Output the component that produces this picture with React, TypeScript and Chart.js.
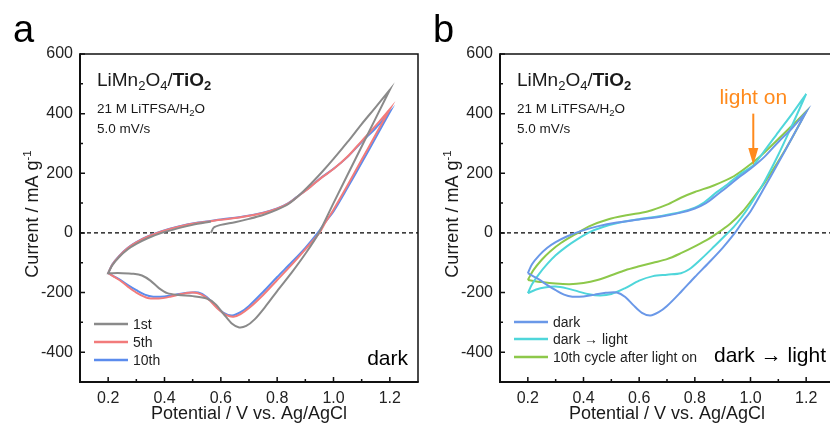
import React, { useEffect, useRef } from "react";
import { Chart, registerables } from "chart.js";
Chart.register(...registerables);

const FONT = "'Liberation Sans', Arial, Helvetica, sans-serif";

// ---- axes ----
const xRange = [0.1, 1.3];
const yRange = [-500, 600];
const xTickValues = [0.2, 0.4, 0.6, 0.8, 1.0, 1.2];
const xMinorTickValues = [0.3, 0.5, 0.7, 0.9, 1.1];
const yTickValues = [-400, -200, 0, 200, 400, 600];
const yMinorTickValues = [-300, -100, 100, 300, 500];

// ---- panel a : 1st cycle (starts at OCP) ----
const c1StartV = [0.565, 0.575, 0.6, 0.65, 0.7, 0.75, 0.8, 0.84, 0.88, 0.92, 0.96, 1.0, 1.05, 1.1, 1.15, 1.2];
const c1StartI = [0, 18, 27, 36, 47, 60, 78, 97, 128, 165, 205, 248, 305, 365, 422, 480];
const c1CathV = [1.2, 1.1, 1.0, 0.948, 0.9, 0.85, 0.8, 0.76, 0.72, 0.69, 0.665, 0.64, 0.61, 0.58, 0.55, 0.5, 0.45, 0.41, 0.38, 0.35, 0.32, 0.29, 0.25, 0.2];
const c1CathI = [480, 290, 100, 0, -70, -135, -195, -245, -290, -312, -317, -305, -272, -238, -220, -212, -208, -202, -185, -160, -143, -137, -135, -135];
const c1EndV = [0.2, 0.215, 0.24, 0.27, 0.3, 0.34, 0.39, 0.45, 0.5, 0.565];
const c1EndI = [-135, -108, -80, -55, -37, -18, 0, 16, 27, 38];

// ---- panel a : 5th cycle ----
const c5AnodV = [0.2, 0.215, 0.24, 0.27, 0.3, 0.34, 0.39, 0.45, 0.52, 0.6, 0.68, 0.75, 0.8, 0.84, 0.88, 0.92, 0.96, 1.0, 1.05, 1.1, 1.15, 1.2];
const c5AnodI = [-135, -106, -77, -51, -32, -13, 5, 21, 34, 44, 54, 67, 81, 99, 127, 156, 187, 214, 256, 308, 360, 415];
const c5CathV = [1.2, 1.15, 1.1, 1.05, 1.0, 0.97, 0.95, 0.9, 0.85, 0.8, 0.75, 0.7, 0.67, 0.645, 0.62, 0.59, 0.56, 0.53, 0.5, 0.46, 0.42, 0.38, 0.34, 0.3, 0.27, 0.24, 0.2];
const c5CathI = [415, 330, 245, 160, 78, 33, 0, -55, -108, -158, -208, -252, -272, -281, -276, -255, -226, -206, -200, -205, -214, -220, -218, -200, -180, -158, -135];

// ---- panel a : 10th cycle (also "dark" in panel b) ----
const c10AnodV = [0.2, 0.215, 0.24, 0.27, 0.3, 0.34, 0.39, 0.45, 0.52, 0.6, 0.68, 0.75, 0.8, 0.84, 0.88, 0.92, 0.96, 1.0, 1.05, 1.1, 1.15, 1.2];
const c10AnodI = [-135, -105, -76, -50, -31, -12, 6, 22, 35, 45, 55, 68, 82, 100, 128, 157, 188, 215, 255, 305, 352, 405];
const c10CathV = [1.2, 1.15, 1.1, 1.05, 1.0, 0.97, 0.944, 0.9, 0.85, 0.8, 0.75, 0.7, 0.67, 0.64, 0.61, 0.58, 0.55, 0.52, 0.48, 0.44, 0.4, 0.36, 0.33, 0.3, 0.27, 0.24, 0.2];
const c10CathI = [405, 320, 235, 152, 72, 35, 0, -50, -100, -148, -198, -245, -266, -277, -268, -243, -215, -200, -201, -207, -213, -214, -207, -192, -175, -156, -135];

// ---- panel b : dark -> light ----
const cyanAnodV = [0.2, 0.215, 0.24, 0.27, 0.3, 0.34, 0.38, 0.42, 0.47, 0.53, 0.6, 0.68, 0.75, 0.8, 0.83, 0.87, 0.92, 0.96, 1.01, 1.05, 1.1, 1.15, 1.2];
const cyanAnodI = [-202, -172, -138, -104, -75, -45, -20, 2, 20, 35, 46, 57, 70, 85, 100, 130, 165, 195, 227, 275, 338, 400, 466];
const cyanCathV = [1.2, 1.15, 1.1, 1.05, 1.0, 0.97, 0.94, 0.91, 0.87, 0.82, 0.78, 0.75, 0.7, 0.65, 0.6, 0.55, 0.5, 0.46, 0.42, 0.38, 0.34, 0.3, 0.26, 0.23, 0.2];
const cyanCathI = [466, 362, 262, 172, 95, 55, 20, -8, -45, -90, -122, -135, -140, -145, -160, -185, -205, -210, -206, -196, -186, -180, -183, -190, -202];

// ---- panel b : 10th cycle after light on ----
const greenAnodV = [0.2, 0.22, 0.25, 0.28, 0.32, 0.37, 0.42, 0.49, 0.56, 0.63, 0.7, 0.75, 0.8, 0.87, 0.94, 1.0, 1.05, 1.1, 1.15, 1.2];
const greenAnodI = [-158, -125, -90, -62, -33, -5, 22, 46, 60, 72, 95, 118, 137, 160, 190, 230, 270, 315, 360, 407];
const greenCathV = [1.2, 1.15, 1.1, 1.05, 1.0, 0.97, 0.93, 0.89, 0.85, 0.8, 0.75, 0.7, 0.65, 0.6, 0.55, 0.5, 0.45, 0.4, 0.35, 0.3, 0.25, 0.2];
const greenCathI = [407, 320, 240, 168, 105, 70, 33, 5, -20, -45, -68, -88, -100, -112, -125, -142, -158, -168, -172, -170, -165, -158];

// light-on annotation (data coords)
const lightOnV = 1.01;
const lightOnTipI = 228;
const lightOnTailI = 400;
const lightOnLabelI = 432;

const COLORS = {
  gray: "#8a8a8a",
  red: "#f27b7b",
  blue: "#5b8ced",
  darkB: "#6a98e8",
  cyan: "#4fd6da",
  green: "#8dc84a",
  orange: "#ff8a1c",
  text: "#1a1a1a",
};

type Branch = [number[], number[]];
function pts(...branches: Branch[]) {
  const out: { x: number; y: number }[] = [];
  branches.forEach(([v, i]) => v.forEach((x, k) => out.push({ x, y: i[k] })));
  return out;
}

type Run = { t: string; size: number; bold?: boolean; dy?: number; color?: string };
function runsWidth(ctx: CanvasRenderingContext2D, runs: Run[]) {
  let w = 0;
  runs.forEach((r) => {
    ctx.font = `${r.bold ? "bold " : ""}${r.size}px ${FONT}`;
    w += ctx.measureText(r.t).width;
  });
  return w;
}
function drawRuns(ctx: CanvasRenderingContext2D, x: number, y: number, runs: Run[], color = COLORS.text) {
  let cx = x;
  ctx.textBaseline = "alphabetic";
  ctx.textAlign = "left";
  runs.forEach((r) => {
    ctx.font = `${r.bold ? "bold " : ""}${r.size}px ${FONT}`;
    ctx.fillStyle = r.color || color;
    ctx.fillText(r.t, cx, y + (r.dy || 0));
    cx += ctx.measureText(r.t).width;
  });
}

type PanelCfg = {
  letter: string;
  corner: string;
  cornerRight: number;
  cornerBottom: number;
  legend: { label: string; color: string }[];
  legendYOffsets: number[];
  arrow?: boolean;
};

function decorPlugin(cfg: PanelCfg) {
  return {
    id: "decor",
    beforeDatasetsDraw(chart: any) {
      const { ctx, chartArea, scales } = chart;
      const y0 = scales.y.getPixelForValue(0);
      ctx.save();
      ctx.strokeStyle = "#000";
      ctx.lineWidth = 1.2;
      ctx.setLineDash([4, 3]);
      ctx.beginPath();
      ctx.moveTo(chartArea.left, y0);
      ctx.lineTo(chartArea.right, y0);
      ctx.stroke();
      ctx.restore();
    },
    afterDraw(chart: any) {
      const { ctx, chartArea: ca, scales } = chart;
      const xs = scales.x;
      const ys = scales.y;
      ctx.save();
      // frame
      ctx.strokeStyle = "#111";
      ctx.lineWidth = 1.5;
      ctx.beginPath();
      ctx.moveTo(ca.left, ca.top);
      ctx.lineTo(ca.right, ca.top);
      ctx.lineTo(ca.right, ca.bottom);
      ctx.stroke();
      ctx.lineWidth = 2;
      ctx.beginPath();
      ctx.moveTo(ca.left, ca.top - 0.75);
      ctx.lineTo(ca.left, ca.bottom);
      ctx.lineTo(ca.right + 0.75, ca.bottom);
      ctx.stroke();
      // inward ticks
      ctx.lineWidth = 1.5;
      ctx.beginPath();
      xTickValues.forEach((v) => {
        const px = xs.getPixelForValue(v);
        ctx.moveTo(px, ca.bottom);
        ctx.lineTo(px, ca.bottom - 5);
      });
      xMinorTickValues.forEach((v) => {
        const px = xs.getPixelForValue(v);
        ctx.moveTo(px, ca.bottom);
        ctx.lineTo(px, ca.bottom - 3);
      });
      yTickValues.forEach((v) => {
        const py = ys.getPixelForValue(v);
        ctx.moveTo(ca.left, py);
        ctx.lineTo(ca.left + 5, py);
      });
      yMinorTickValues.forEach((v) => {
        const py = ys.getPixelForValue(v);
        ctx.moveTo(ca.left, py);
        ctx.lineTo(ca.left + 3, py);
      });
      ctx.stroke();

      // panel letter
      ctx.fillStyle = "#000";
      ctx.font = `38px ${FONT}`;
      ctx.textAlign = "left";
      ctx.textBaseline = "alphabetic";
      ctx.fillText(cfg.letter, 13, 42);

      // x title
      ctx.font = `18px ${FONT}`;
      ctx.fillStyle = COLORS.text;
      ctx.textAlign = "center";
      ctx.fillText("Potential / V vs. Ag/AgCl", (ca.left + ca.right) / 2, 419);

      // y title (rotated)
      const yRuns: Run[] = [
        { t: "Current / mA g", size: 18 },
        { t: "-1", size: 11.5, dy: -7.5 },
      ];
      ctx.save();
      ctx.translate(38, 214);
      ctx.rotate(-Math.PI / 2);
      const yw = runsWidth(ctx, yRuns);
      drawRuns(ctx, -yw / 2, 0, yRuns);
      ctx.restore();

      // sample annotation
      const tx = ca.left + 17;
      drawRuns(ctx, tx, ca.top + 32, [
        { t: "LiMn", size: 19 },
        { t: "2", size: 13, dy: 4 },
        { t: "O", size: 19 },
        { t: "4", size: 13, dy: 4 },
        { t: "/", size: 19 },
        { t: "TiO", size: 19, bold: true },
        { t: "2", size: 13, bold: true, dy: 4 },
      ]);
      drawRuns(ctx, tx, ca.top + 59, [
        { t: "21 M LiTFSA/H", size: 13.5 },
        { t: "2", size: 9.5, dy: 3 },
        { t: "O", size: 13.5 },
      ]);
      drawRuns(ctx, tx, ca.top + 79, [{ t: "5.0 mV/s", size: 13.5 }]);

      // corner label
      ctx.font = `21px ${FONT}`;
      ctx.fillStyle = "#000";
      ctx.textAlign = "right";
      ctx.textBaseline = "alphabetic";
      ctx.fillText(cfg.corner, ca.right - cfg.cornerRight, ca.bottom - cfg.cornerBottom);

      // legend
      cfg.legend.forEach((item, k) => {
        const ly = ca.bottom + cfg.legendYOffsets[k];
        ctx.strokeStyle = item.color;
        ctx.lineWidth = 2.5;
        ctx.beginPath();
        ctx.moveTo(ca.left + 14, ly);
        ctx.lineTo(ca.left + 48, ly);
        ctx.stroke();
        ctx.font = `14px ${FONT}`;
        ctx.fillStyle = "#222";
        ctx.textAlign = "left";
        ctx.textBaseline = "middle";
        ctx.fillText(item.label, ca.left + 53, ly + 1);
      });

      // light-on arrow
      if (cfg.arrow) {
        const ax = xs.getPixelForValue(lightOnV);
        const tipY = ys.getPixelForValue(lightOnTipI);
        const tailY = ys.getPixelForValue(lightOnTailI);
        ctx.strokeStyle = COLORS.orange;
        ctx.fillStyle = COLORS.orange;
        ctx.lineWidth = 2;
        ctx.beginPath();
        ctx.moveTo(ax, tailY);
        ctx.lineTo(ax, tipY - 14);
        ctx.stroke();
        ctx.beginPath();
        ctx.moveTo(ax - 5, tipY - 17);
        ctx.lineTo(ax + 5, tipY - 17);
        ctx.lineTo(ax, tipY);
        ctx.closePath();
        ctx.fill();
        ctx.font = `21px ${FONT}`;
        ctx.textAlign = "center";
        ctx.textBaseline = "alphabetic";
        ctx.fillText("light on", ax, ys.getPixelForValue(lightOnLabelI));
      }
      ctx.restore();
    },
  };
}

function makeDataset(data: any[], color: string) {
  return {
    data,
    showLine: true,
    borderColor: color,
    backgroundColor: color,
    borderWidth: 2,
    pointRadius: 0,
    tension: 0.3,
    fill: false,
  };
}

function buildOptions(padRight: number) {
  const tickFont = { family: FONT, size: 16 };
  return {
    responsive: false,
    animation: false as const,
    devicePixelRatio: 1,
    events: [],
    layout: { padding: { top: 54, right: padRight, left: 0, bottom: 0 } },
    plugins: { legend: { display: false }, tooltip: { enabled: false }, title: { display: false } },
    scales: {
      x: {
        type: "linear" as const,
        min: xRange[0],
        max: xRange[1],
        grid: { display: false, drawTicks: false },
        border: { display: false },
        afterBuildTicks: (s: any) => {
          s.ticks = xTickValues.map((v) => ({ value: v }));
        },
        afterFit: (s: any) => {
          s.height = 42;
        },
        ticks: {
          padding: 7,
          color: "#222",
          font: tickFont,
          autoSkip: false,
          maxRotation: 0,
          callback: (v: any) => Number(v).toFixed(1),
        },
      },
      y: {
        type: "linear" as const,
        min: yRange[0],
        max: yRange[1],
        grid: { display: false, drawTicks: false },
        border: { display: false },
        afterBuildTicks: (s: any) => {
          s.ticks = yTickValues.map((v) => ({ value: v }));
        },
        afterFit: (s: any) => {
          s.width = 80;
        },
        ticks: {
          padding: 7,
          color: "#222",
          font: tickFont,
          autoSkip: false,
          callback: (v: any) => String(v),
        },
      },
    },
  };
}

function Panel(props: { left: number; width: number; padRight: number; datasets: any[]; cfg: PanelCfg }) {
  const ref = useRef<HTMLCanvasElement | null>(null);
  useEffect(() => {
    if (!ref.current) return;
    const chart = new Chart(ref.current, {
      type: "scatter",
      data: { datasets: props.datasets },
      options: buildOptions(props.padRight) as any,
      plugins: [decorPlugin(props.cfg)],
    });
    return () => chart.destroy();
  }, []);
  return (
    <canvas
      ref={ref}
      width={props.width}
      height={424}
      style={{ position: "absolute", left: props.left, top: 0, width: props.width, height: 424 }}
    />
  );
}

export default function App() {
  const dsA = [
    makeDataset(pts([c1StartV, c1StartI], [c1CathV, c1CathI], [c1EndV, c1EndI]), COLORS.gray),
    makeDataset(pts([c5AnodV, c5AnodI], [c5CathV, c5CathI]), COLORS.red),
    makeDataset(pts([c10AnodV, c10AnodI], [c10CathV, c10CathI]), COLORS.blue),
  ];
  const dsB = [
    makeDataset(pts([c10AnodV, c10AnodI], [c10CathV, c10CathI]), COLORS.darkB),
    makeDataset(pts([cyanAnodV, cyanAnodI], [cyanCathV, cyanCathI]), COLORS.cyan),
    makeDataset(pts([greenAnodV, greenAnodI], [greenCathV, greenCathI]), COLORS.green),
  ];
  const cfgA: PanelCfg = {
    letter: "a",
    corner: "dark",
    cornerRight: 10,
    cornerBottom: 17,
    legend: [
      { label: "1st", color: COLORS.gray },
      { label: "5th", color: COLORS.red },
      { label: "10th", color: COLORS.blue },
    ],
    legendYOffsets: [-58, -40, -22],
  };
  const cfgB: PanelCfg = {
    letter: "b",
    corner: "dark \u2192 light",
    cornerRight: 8,
    cornerBottom: 20,
    legend: [
      { label: "dark", color: COLORS.darkB },
      { label: "dark \u2192 light", color: COLORS.cyan },
      { label: "10th cycle after light on", color: COLORS.green },
    ],
    legendYOffsets: [-60, -43, -25],
    arrow: true,
  };
  return (
    <div
      style={{
        position: "fixed",
        left: 0,
        top: 0,
        width: 830,
        height: 424,
        overflow: "hidden",
        background: "#fff",
      }}
    >
      <Panel left={0} width={420} padRight={2} datasets={dsA} cfg={cfgA} />
      <Panel left={420} width={420} padRight={6} datasets={dsB} cfg={cfgB} />
    </div>
  );
}
